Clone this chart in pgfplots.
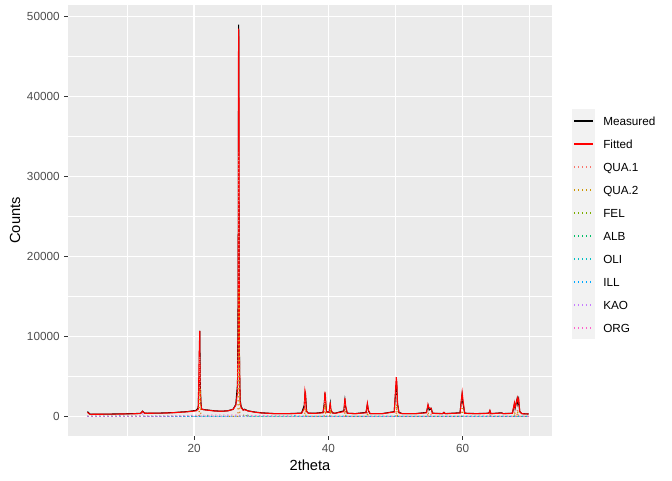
\documentclass[border=0pt]{standalone}
\usepackage{pgfplots}
\pgfplotsset{compat=1.18}
\usepackage{fontspec}
\setmainfont{Liberation Sans}
\definecolor{panel}{HTML}{EBEBEB}
\definecolor{keybg}{HTML}{F2F2F2}
\definecolor{ticklab}{HTML}{4D4D4D}
\definecolor{tickcol}{HTML}{333333}
\definecolor{cQUAa}{HTML}{F8766D}
\definecolor{cQUAb}{HTML}{CD9600}
\definecolor{cFEL}{HTML}{7CAE00}
\definecolor{cALB}{HTML}{00BE67}
\definecolor{cOLI}{HTML}{00BFC4}
\definecolor{cILL}{HTML}{00A9FF}
\definecolor{cKAO}{HTML}{C77CFF}
\definecolor{cORG}{HTML}{FF61CC}
\pgfplotsset{
  solidkey/.style={legend image code/.code={\draw[draw=#1, line width=1.1pt] (0pt,0pt) -- (14pt,0pt);}},
  dotkey/.style={legend image code/.code={\draw[draw=#1, line width=1.1pt, dash pattern=on 1pt off 2pt] (0pt,0pt) -- (14pt,0pt);}},
}
\begin{document}
\begin{tikzpicture}
\useasboundingbox (0,0) rectangle (504pt,360pt);
\fill[keybg] (428.8pt,105.5pt) rectangle (446.25pt,278.25pt);
\begin{axis}[
  at={(51pt,33pt)}, anchor=south west,
  scale only axis, width=363pt, height=323.25pt,
  xmin=1.2, xmax=73.3, ymin=-2450, ymax=51450,
  axis background/.style={fill=panel},
  axis line style={draw=none},
  xtick={20,40,60}, minor xtick={10,30,50,70},
  ytick={0,10000,20000,30000,40000,50000},
  minor ytick={5000,15000,25000,35000,45000},
  grid=both,
  major grid style={white, line width=1.07pt},
  minor grid style={white, line width=0.53pt},
  xtick pos=bottom, ytick pos=left,
  tick align=outside,
  major tick length=2.75pt, minor tick length=0pt,
  tick style={tickcol, line width=0.8pt},
  scaled y ticks=false,
  /pgf/number format/assume math mode=true,
  yticklabel style={/pgf/number format/fixed, /pgf/number format/1000 sep={}},
  ticklabel style={font=\fontsize{8.8}{10}\selectfont, text=ticklab},
  xlabel={2theta}, ylabel={Counts},
  label style={font=\fontsize{11}{13}\selectfont},
  xlabel style={at={(axis description cs:0.5,-0.0673)}, anchor=center},
  ylabel style={at={(axis description cs:-0.1095,0.5)}, anchor=center},
  legend style={at={(axis description cs:1.0434,0.7417)}, anchor=north west,
    draw=none, fill=none, inner sep=0pt, row sep=10.98pt, column sep=7.4pt,
    font=\fontsize{8.8}{10}\selectfont,
    nodes={inner sep=0pt, text height=6.3pt, text depth=0pt}},
  legend cell align=left,
  every axis plot/.append style={line width=0.8pt},
  dotted comp/.style={line width=0.8pt, dash pattern=on 0.75pt off 2.25pt},
]
\addplot[draw=black, solidkey=black] coordinates {
(4.1,600)(4.3,450)(4.5,280)(5,280)(6,270)(7,290)(8,300)(9,320)(10,330)(11,350)(12,380)(12.3,650)(12.6,420)(13,400)(14,400)(15,420)(16,450)(17,480)(18,550)(19,600)(19.8,700)(20.3,750)(20.6,1100)(20.75,5000)(20.83,10700)(20.9,4000)(21.0,1800)(21.1,900)(21.5,850)(22,800)(23,700)(24,650)(25,700)(25.8,900)(26.2,1500)(26.45,4000)(26.55,16000)(26.63,49000)(26.68,20000)(26.75,6000)(26.85,2000)(27,1200)(27.3,800)(27.5,900)(28,700)(29,550)(30,450)(31,400)(32,350)(33,350)(34,350)(35,380)(36,420)(36.4,1400)(36.53,3100)(36.62,2200)(36.75,600)(37,400)(38,400)(39.2,500)(39.4,1800)(39.47,2900)(39.55,2000)(39.7,600)(40.1,500)(40.27,1600)(40.35,800)(40.6,450)(41,400)(42.3,700)(42.45,2000)(42.55,1200)(42.8,400)(44,350)(45.6,500)(45.8,1500)(45.95,700)(46.2,350)(48,350)(49.8,600)(50.05,3500)(50.15,4400)(50.25,1800)(50.5,500)(51,350)(53,350)(54.6,500)(54.85,1350)(55,800)(55.3,1000)(55.5,400)(57,350)(57.2,500)(57.4,350)(59.6,450)(59.9,2700)(60.0,1800)(60.3,400)(62,350)(63.9,400)(64.05,700)(64.2,350)(65.8,450)(66,350)(67.4,400)(67.7,1500)(67.8,1000)(68.1,2200)(68.2,1600)(68.3,2100)(68.5,600)(68.8,350)(69.8,300)
};
\addlegendentry{Measured}
\addplot[draw=red, solidkey=red] coordinates {
(4.1,500)(4.3,350)(4.5,260)(5,270)(6,270)(7,280)(8,290)(9,300)(10,310)(11,330)(12,360)(12.3,620)(12.6,400)(13,390)(14,400)(15,410)(16,430)(17,470)(18,520)(19,580)(19.8,650)(20.3,700)(20.6,900)(20.75,8000)(20.83,10700)(20.88,3500)(21.0,1600)(21.1,900)(21.5,820)(22,780)(23,680)(24,640)(25,690)(25.8,880)(26.2,1400)(26.45,3000)(26.55,11600)(26.6,45000)(26.62,48500)(26.66,45000)(26.72,8000)(26.85,1800)(27,1100)(27.3,780)(27.5,850)(28,680)(29,530)(30,430)(31,390)(32,340)(33,340)(34,340)(35,360)(36,400)(36.4,1000)(36.5,3250)(36.58,2900)(36.7,700)(37,400)(38,380)(39.2,450)(39.4,1500)(39.47,3100)(39.53,2700)(39.7,550)(40.1,480)(40.27,1750)(40.35,900)(40.6,430)(41,390)(42.3,600)(42.45,2300)(42.55,1400)(42.8,400)(44,340)(45.6,450)(45.8,1650)(45.95,800)(46.2,340)(48,340)(49.8,550)(50.1,4900)(50.18,4300)(50.3,1500)(50.5,450)(51,340)(53,340)(54.6,450)(54.82,1500)(54.95,1100)(55.3,1000)(55.5,380)(57,340)(57.2,500)(57.4,340)(59.6,420)(59.92,3000)(60.02,2200)(60.3,380)(62,340)(63.9,380)(64.05,750)(64.2,340)(65.8,420)(66,340)(67.4,380)(67.7,1700)(67.8,1100)(68.15,2300)(68.25,1800)(68.35,2100)(68.5,600)(68.8,340)(69.8,300)
};
\addlegendentry{Fitted}
\addplot[draw=cQUAa, dotted comp, dotkey=cQUAa] coordinates {
(4.1,0)(20.7,0)(20.83,7500)(20.95,0)(26.5,0)(26.63,33000)(26.76,0)(36.4,0)(36.5,2000)(36.6,0)(39.35,0)(39.47,2000)(39.6,0)(40.17,0)(40.27,1000)(40.37,0)(42.35,0)(42.45,1500)(42.55,0)(45.7,0)(45.8,900)(45.9,0)(50.0,0)(50.1,3000)(50.2,0)(54.75,0)(54.82,900)(54.9,0)(55.2,0)(55.3,500)(55.4,0)(59.8,0)(59.92,2000)(60.02,0)(63.95,0)(64.05,400)(64.15,0)(67.6,0)(67.7,1000)(67.8,0)(68.05,0)(68.15,1500)(68.25,0)(69.8,0)
};
\addlegendentry{QUA.1}
\addplot[draw=cQUAb, dotted comp, dotkey=cQUAb] coordinates {
(4.1,0)(20.75,0)(20.88,3500)(21.0,0)(26.55,0)(26.68,16000)(26.8,0)(36.45,0)(36.55,1000)(36.65,0)(39.4,0)(39.52,1000)(39.65,0)(40.22,0)(40.32,500)(40.42,0)(42.4,0)(42.5,750)(42.6,0)(45.75,0)(45.85,450)(45.95,0)(50.05,0)(50.15,1500)(50.25,0)(54.8,0)(54.87,450)(54.95,0)(59.85,0)(59.97,1000)(60.07,0)(67.65,0)(67.75,500)(67.85,0)(68.1,0)(68.2,750)(68.3,0)(69.8,0)
};
\addlegendentry{QUA.2}
\addplot[draw=cFEL, dotted comp, dotkey=cFEL] coordinates {
(4.1,0)(27.2,0)(27.5,300)(27.8,0)(27.9,200)(28.1,0)(69.8,0)
};
\addlegendentry{FEL}
\addplot[draw=cALB, dotted comp, dotkey=cALB] coordinates {
(4.1,0)(21.8,0)(22.0,100)(22.2,0)(27.8,0)(27.95,200)(28.1,0)(69.8,0)
};
\addlegendentry{ALB}
\addplot[draw=cOLI, dotted comp, dotkey=cOLI] coordinates {
(4.1,0)(27.85,0)(28.0,150)(28.15,0)(69.8,0)
};
\addlegendentry{OLI}
\addplot[draw=cILL, dotted comp, dotkey=cILL] coordinates {
(4.1,0)(8.5,0)(8.8,100)(9.1,0)(19.5,0)(19.8,150)(20.1,0)(34.8,0)(35.0,100)(35.2,0)(69.8,0)
};
\addlegendentry{ILL}
\addplot[draw=cKAO, dotted comp, dotkey=cKAO] coordinates {
(4.1,0)(12.1,0)(12.35,300)(12.6,0)(24.7,0)(24.9,200)(25.1,0)(69.8,0)
};
\addlegendentry{KAO}
\addplot[draw=cORG, dotted comp, dotkey=cORG] coordinates {
(4.1,0)(15,0)(20,150)(25,200)(30,100)(35,0)(69.8,0)
};
\addlegendentry{ORG}
\end{axis}
\end{tikzpicture}
\end{document}
